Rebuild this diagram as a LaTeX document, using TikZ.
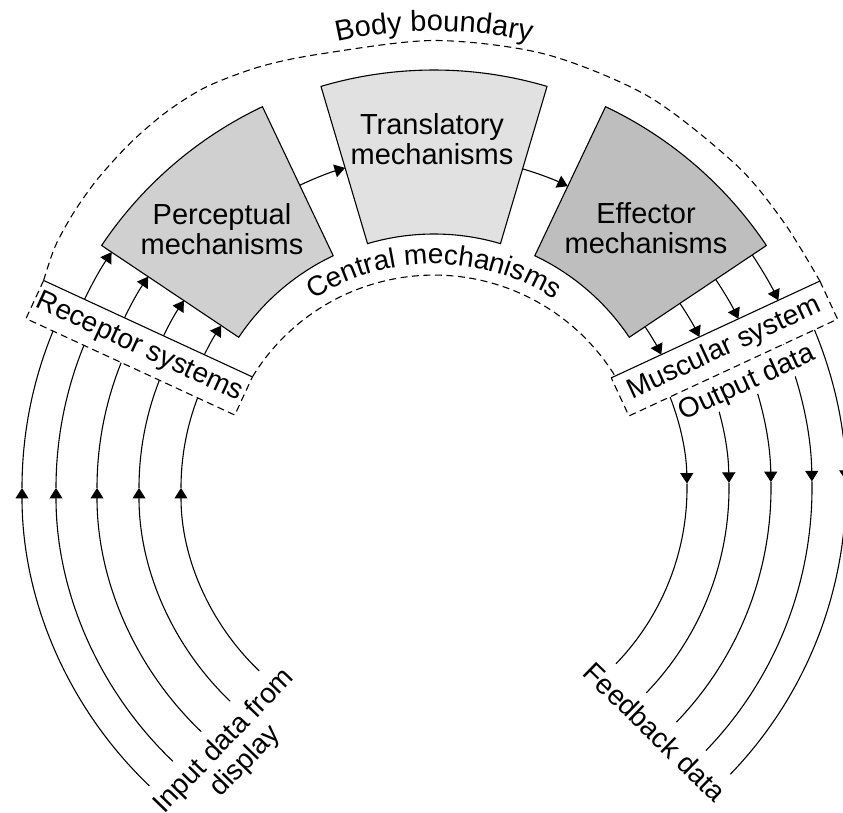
\documentclass[tikz,border=0pt]{standalone}
\usepackage{fontspec}
\setmainfont{Liberation Sans}
\usetikzlibrary{arrows.meta,decorations.text}
\definecolor{percfill}{RGB}{208,208,208}
\definecolor{transfill}{RGB}{225,225,225}
\definecolor{efffill}{RGB}{190,190,190}
\begin{document}
\begin{tikzpicture}[x=1pt,y=1pt,line width=1.1pt,
  arr/.style={-{Triangle[width=13pt,length=10.5pt]}},
  bnd/.style={dash pattern=on 7pt off 4.5pt},
  blktxt/.style={font=\fontsize{29}{30.5}\selectfont,align=center,inner sep=0pt},
  lbl/.style={font=\fontsize{28}{29}\selectfont,inner sep=0pt},
  boxgeom/.style={draw=none,inner sep=0pt,outer sep=0pt,minimum width=230pt,minimum height=42pt},
]
\useasboundingbox (0,0) rectangle (843,812);
\coordinate (O1) at (434,344);
\coordinate (O2) at (434,324);
% geometry of the two system boxes
\node[boxgeom,rotate=-24.8] (recbox) at (139.2,464.25) {};
\node[boxgeom,rotate=24.9] (musbox) at (724.4,463.5) {};

\begin{scope}[shift={(434,344)}]
  % body boundary
  \draw[bnd] plot[smooth] coordinates {(recbox.north west) (149.7:438.9) (144.8:441.6) (139.5:443.5) (133.1:444.8) (126.9:445.4) (120.8:443.9) (113.4:437.4) (105.4:429.4) (90:427.5) (75:428.5) (60:429) (45:428) (35:427.5) (musbox.north east)};
  % blocks
  \filldraw[fill=percfill] (115.4:235) -- (115.4:400) arc[start angle=115.4,end angle=146.2,radius=400] -- (146.2:235) arc[start angle=146.2,end angle=115.4,radius=235] -- cycle;
  \filldraw[fill=transfill] (73.5:234) -- (73.5:398) arc[start angle=73.5,end angle=106.5,radius=398] -- (106.5:234) arc[start angle=106.5,end angle=73.5,radius=234] -- cycle;
  \filldraw[fill=efffill] (33.8:235) -- (33.8:400) arc[start angle=33.8,end angle=64.6,radius=400] -- (64.6:235) arc[start angle=64.6,end angle=33.8,radius=235] -- cycle;
  % arrows between blocks
  \coordinate (pa) at (115.4:313);
  \draw[arr] (pa) arc[start angle=115.4,end angle=106.5,radius=313];
  \coordinate (ta) at (73.5:312);
  \draw[arr] (ta) arc[start angle=73.5,end angle=64.6,radius=312];
  % receptor -> perceptual
  \foreach \r [count=\i] in {256,301,344,388} {
    \coordinate (rl\i) at (157:\r);
    \draw[arr] (rl\i) arc[start angle=157,end angle=146.2,radius=\r];
  }
  % effector -> muscular
  \foreach \r/\e [count=\i] in {254/26.51,296/26.28,339/26.10,383/25.97} {
    \coordinate (er\i) at (33.8:\r);
    \draw[arr] (er\i) arc[start angle=33.8,end angle=\e,radius=\r];
  }
\end{scope}

\begin{scope}[shift={(434,324)}]
  \foreach \r [count=\i] in {253,295,337,378,412} {
    \coordinate (inb\i) at (226.3:\r);
    \coordinate (inm\i) at (180:\r);
    \draw[arr] (inb\i) arc[start angle=226.3,end angle=180,radius=\r];
    \draw (inm\i) arc[start angle=180,end angle=156,radius=\r];
    \coordinate (ot\i) at (24:\r);
    \coordinate (om\i) at (1:\r);
    \draw[arr] (ot\i) arc[start angle=24,end angle=1,radius=\r];
    \draw (om\i) arc[start angle=1,end angle=-44,radius=\r];
  }
\end{scope}
% central mechanisms boundary
\draw[bnd] (recbox.north east) arc[start angle=148.55,end angle=31.84,radius=212.9] -- (musbox.north west);

% block texts
\node[blktxt] (perc) at (222,583) {Perceptual\\mechanisms};
\node[blktxt] (trans) at (432,673) {Translatory\\mechanisms};
\node[blktxt] (eff) at (646,584) {Effector\\mechanisms};

% output data label
\node[lbl,rotate=24.9,anchor=base,fill=white,text height=27pt,text depth=6.5pt,inner xsep=0.5pt,inner ysep=0pt] (outd) at (750.2,422.0) {Output data};

% receptor box
\fill[white] (recbox.north west) -- (recbox.north east) -- (recbox.south east) -- (recbox.south west) -- cycle;
\draw (recbox.north west) -- (recbox.north east);
\draw[bnd] (recbox.north west) -- (recbox.south west) -- (recbox.south east) -- (recbox.north east);
\node[lbl,rotate=-24.8] (rec) at (recbox.center) {Receptor systems};
% muscular box
\fill[white] (musbox.north west) -- (musbox.north east) -- (musbox.south east) -- (musbox.south west) -- cycle;
\draw (musbox.north west) -- (musbox.north east);
\draw[bnd] (musbox.north east) -- (musbox.south east) -- (musbox.south west) -- (musbox.north west);
\node[lbl,rotate=24.9] (mus) at (musbox.center) {Muscular system};

% curved labels
\path[decorate,decoration={text along path,text align=center,text={|\fontsize{29}{30}\selectfont|Body boundary}}] (434,344) ++(125:437) arc[start angle=125,end angle=55,radius=437];
\path[decorate,decoration={text along path,text align=center,text={|\fontsize{28}{29}\selectfont|Central mechanisms}}] (434,324) ++(145:224) arc[start angle=145,end angle=35,radius=224];

% input / feedback labels
\node[lbl,align=center,rotate=46] (inp) at (235,60.5) {Input data from\\display};
\node[lbl,rotate=-44.3] (fb) at (655,80.3) {Feedback data};
\end{tikzpicture}
\end{document}
